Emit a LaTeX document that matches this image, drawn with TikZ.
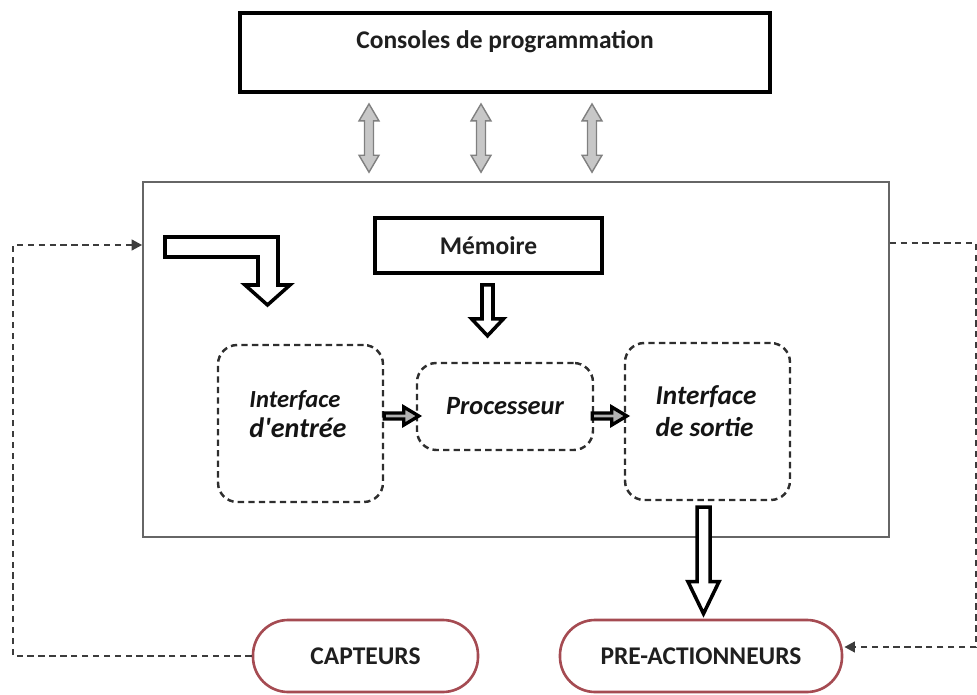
\documentclass[tikz,border=0pt]{standalone}
\usepackage{fontspec}
\setmainfont{Carlito}
\usetikzlibrary{calc,arrows.meta}
\definecolor{ovalred}{RGB}{165,75,82}
\definecolor{fbgray}{RGB}{60,60,60}
\newcommand\blockdown[5]{%
  \draw[blk] ($(#1)+(-#3,0)$) -- ($(#1)+(#3,0)$) -- ($(#2)+(#3,-#5)$) -- ($(#2)+(#4,-#5)$) -- (#2)
    -- ($(#2)+(-#4,-#5)$) -- ($(#2)+(-#3,-#5)$) -- cycle;}
\newcommand\blockright[5]{%
  \draw[blk,line width=1.9pt,fill=black!30] ($(#1)+(0,-#3)$) -- ($(#2)+(-#5,-#3)$) -- ($(#2)+(-#5,-#4)$) -- (#2)
    -- ($(#2)+(-#5,#4)$) -- ($(#2)+(-#5,#3)$) -- ($(#1)+(0,#3)$) -- cycle;}
\newcommand\blockupdown[5]{%
  \draw[garr] (#1) -- ($(#1)+(#4,#5)$) -- ($(#1)+(#3,#5)$) -- ($(#2)+(#3,-#5)$) -- ($(#2)+(#4,-#5)$) -- (#2)
    -- ($(#2)+(-#4,-#5)$) -- ($(#2)+(-#3,-#5)$) -- ($(#1)+(-#3,#5)$) -- ($(#1)+(-#4,#5)$) -- cycle;}
\begin{document}
\begin{tikzpicture}[x=0.02cm,y=-0.02cm,
  thickbox/.style={draw=black,line width=2.2pt,inner sep=0pt},
  mainbox/.style={draw=black!60,line width=0.9pt,inner sep=0pt},
  dbox/.style={draw=black!82,line width=1.4pt,dash pattern=on 3.6pt off 2.4pt,
    rounded corners=11pt,inner sep=0pt,align=left},
  oval/.style={draw=ovalred,line width=1.5pt,rounded corners=20pt,inner sep=0pt},
  blk/.style={draw=black,line width=2pt,fill=white,line join=miter},
  garr/.style={draw=black!50,fill=black!22,line width=0.8pt},
  fb/.style={draw=fbgray,line width=1.4pt,dash pattern=on 3.6pt off 2.6pt},
  tip/.style={-{Triangle[length=6pt,width=6pt]}},
  lbl/.style={font=\fontsize{14.5}{16}\selectfont\bfseries,text=black!88},
  ilbl/.style={font=\fontsize{15}{18}\selectfont\bfseries\itshape,text=black!92,align=left}]
\useasboundingbox (0,0) rectangle (977,695);

% boxes
\node[thickbox,minimum width=530*0.02cm,minimum height=79*0.02cm] (cons) at (505,52.5) {};
\node[lbl] (constxt) at (505,42) {Consoles de programmation};
\node[mainbox,minimum width=746*0.02cm,minimum height=355*0.02cm] (main) at (516,359.5) {};
\node[thickbox,minimum width=227*0.02cm,minimum height=55*0.02cm,lbl] (mem) at (488.5,245.5) {Mémoire};
\node[dbox,minimum width=165*0.02cm,minimum height=157*0.02cm] (ie) at (300.5,423.5) {};
\node[ilbl,font=\fontsize{14}{18}\selectfont\bfseries\itshape] at (298,414) {Interface\\[-1pt]{\fontsize{16}{18}\selectfont d\textquotesingle entrée}};
\node[dbox,minimum width=176*0.02cm,minimum height=87*0.02cm,ilbl] (proc) at (505,406.5) {Processeur};
\node[dbox,minimum width=165*0.02cm,minimum height=157*0.02cm] (is) at (707.5,421.5) {};
\node[ilbl,font=\fontsize{15.5}{18}\selectfont\bfseries\itshape] at (706,411) {Interface\\de sortie};
\node[oval,minimum width=225*0.02cm,minimum height=72*0.02cm,lbl] (capt) at (365.5,656) {CAPTEURS};
\node[oval,minimum width=282*0.02cm,minimum height=72*0.02cm,lbl] (pre) at (701,656) {PRE-ACTIONNEURS};

% gray double arrows between consoles and automate
\foreach \dx/\n in {-136/1,-24/2,87/3}{
  \coordinate (g\n t) at ($(cons.south)+(\dx,10)$);
  \coordinate (g\n b) at ($(g\n t |- main.north)+(0,-9)$);
  \blockupdown{g\n t}{g\n b}{4.5}{10}{17}
}

% L-shaped input arrow
\draw[blk] (165,237) -- (278,237) -- (278,285) -- (290,285) -- (267.5,305) -- (245,285)
  -- (258,285) -- (258,257) -- (165,257) -- cycle;

% memory -> processor
\coordinate (m1) at ($(mem.south)+(-1,10)$);
\coordinate (m2) at ($(m1 |- proc.north)+(0,-26)$);
\blockdown{m1}{m2}{5.5}{16}{17}

% interface arrows
\coordinate (h1s) at ($(ie.east)+(0,-7.5)$);
\coordinate (h1e) at ($(proc.west)+(3,9.5)$);
\blockright{h1s}{h1e}{3}{9}{15}
\coordinate (h2s) at ($(proc.east)+(-2,9.5)$);
\coordinate (h2e) at ($(is.west)+(3,-5.5)$);
\blockright{h2s}{h2e}{3}{9}{15}

% output -> pre-actionneurs
\coordinate (o1) at ($(is.south)+(-4,6)$);
\coordinate (o2) at ($(o1 |- pre.north)+(0,-5)$);
\blockdown{o1}{o2}{6.5}{15.5}{32}

% feedback dashed lines
\coordinate (lc) at (13,245);
\draw[fb,tip] (capt.west) -| (lc) -- (main.west |- lc);
\coordinate (rc) at (976,243);
\coordinate (pe) at ($(pre.east)+(1,-9)$);
\draw[fb,tip] (main.east |- rc) -- (rc) |- (pe);
\end{tikzpicture}
\end{document}
